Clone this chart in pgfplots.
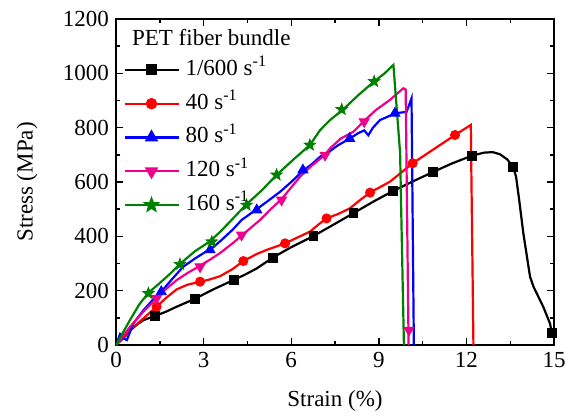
\documentclass[border=0pt]{standalone}
\usepackage{fontspec}
\setmainfont{Liberation Serif}
\usepackage{pgfplots}
\pgfplotsset{compat=1.18}

% filled five-pointed star for the 160 s^-1 series
\pgfdeclareplotmark{fstar}{%
  \pgfpathmoveto{\pgfpointpolar{90}{\pgfplotmarksize}}%
  \pgfpathlineto{\pgfpointpolar{126}{0.42\pgfplotmarksize}}%
  \pgfpathlineto{\pgfpointpolar{162}{\pgfplotmarksize}}%
  \pgfpathlineto{\pgfpointpolar{198}{0.42\pgfplotmarksize}}%
  \pgfpathlineto{\pgfpointpolar{234}{\pgfplotmarksize}}%
  \pgfpathlineto{\pgfpointpolar{270}{0.42\pgfplotmarksize}}%
  \pgfpathlineto{\pgfpointpolar{306}{\pgfplotmarksize}}%
  \pgfpathlineto{\pgfpointpolar{342}{0.42\pgfplotmarksize}}%
  \pgfpathlineto{\pgfpointpolar{18}{\pgfplotmarksize}}%
  \pgfpathlineto{\pgfpointpolar{54}{0.42\pgfplotmarksize}}%
  \pgfpathclose
  \pgfusepathqfillstroke
}

\definecolor{ogreen}{RGB}{0,128,0}

\begin{document}
\begin{tikzpicture}[font=\fontsize{11.5}{13.8}\selectfont]
\useasboundingbox (-58pt,-35.5pt) rectangle (224.5pt,172.5pt);
\begin{axis}[
    scale only axis,
    width=219pt, height=163pt,
    xmin=0, xmax=15, ymin=0, ymax=1200,
    xtick={0,3,6,9,12,15},
    xticklabels={0,3,6,9,12,15},
    ytick={0,200,400,600,800,1000,1200},
    yticklabels={0,200,400,600,800,1000,1200},
    minor x tick num=1,
    minor y tick num=1,
    tick align=inside,
    major tick length=3.5pt,
    minor tick length=2pt,
    axis line style={line width=0.9pt},
    every tick/.style={black, line width=0.7pt},
    tick label style={font=\fontsize{11.5}{13.8}\selectfont},
    legend style={
        draw=none, fill=none,
        at={(0,1)}, anchor=north west,
        xshift=3.5pt, yshift=-20pt,
        inner sep=0pt,
        row sep=6.4pt,
        nodes={inner sep=0pt, text height=8pt, text depth=2.5pt},
        /tikz/every odd column/.append style={column sep=3pt},
        font=\fontsize{11.5}{13.8}\selectfont,
    },
    legend cell align=left,
    legend image code/.code={
        \draw[mark repeat=2,mark phase=2] plot coordinates {(0pt,0pt) (13.5pt,0pt) (27pt,0pt)};
    },
]

% 1/600 s^-1
\addplot[black, line width=1.1pt, forget plot] coordinates {
  (0,0) (0.25,25) (0.5,55) (0.75,78) (0.95,92) (1.34,107) (1.7,122) (2.08,141)
  (2.7,170) (3.3,203) (4.02,239) (4.4,258) (4.82,282) (5.39,323) (6.0,360)
  (6.76,401) (7.4,440) (8.13,485) (8.8,527) (9.49,567) (10.2,604) (10.86,637)
  (11.5,668) (12.19,697) (12.6,708) (12.9,710) (13.15,702) (13.4,683) (13.6,655)
  (13.7,620) (13.8,540) (13.95,411) (14.18,251) (14.3,214) (14.63,141) (14.86,80) (14.93,44)
};
\addplot[black, only marks, mark=square*, mark size=2.2pt, forget plot] coordinates {
  (1.34,107) (2.7,170) (4.04,239) (5.38,322) (6.76,401) (8.13,485) (9.49,567)
  (10.86,637) (12.19,697) (13.6,655) (14.93,44)
};

% 40 s^-1
\addplot[red, line width=1.1pt, forget plot] coordinates {
  (0,0) (0.48,55) (0.94,98) (1.39,141) (1.7,172) (2.08,205) (2.45,222) (2.88,233)
  (3.2,241) (3.56,253) (4.0,280) (4.36,309) (4.82,335) (5.16,350) (5.79,374)
  (6.2,395) (6.64,417) (6.95,445) (7.21,466) (7.6,482) (8.01,503) (8.35,533)
  (8.7,561) (9.38,601) (10.16,669) (10.9,722) (11.61,773) (12.15,810) (12.24,0)
};
\addplot[red, only marks, mark=*, mark size=2.3pt, forget plot] coordinates {
  (1.39,141) (2.88,233) (4.36,309) (5.79,374) (7.21,466) (8.7,561) (10.16,669) (11.61,773)
};

% 80 s^-1
\addplot[blue, line width=1.1pt, forget plot] coordinates {
  (0,0) (0.14,40) (0.25,25) (0.37,18) (0.6,80) (0.94,128) (1.25,165) (1.55,196)
  (1.9,240) (2.3,288) (2.7,318) (3.1,345) (3.22,350) (3.6,385) (4.0,425) (4.3,460)
  (4.82,500) (5.2,530) (5.62,564) (6.0,600) (6.4,641) (6.7,665) (6.99,693)
  (7.3,712) (7.6,735) (7.96,757) (8.3,780) (8.5,790) (8.64,772) (8.8,800)
  (9.04,828) (9.3,840) (9.55,853) (9.95,858) (10.12,908) (10.2,0)
};
\addplot[blue, only marks, mark=triangle*, mark size=2.9pt, forget plot] coordinates {
  (1.55,196) (3.22,350) (4.82,497) (6.4,644) (8.0,760) (9.55,853)
};

% 120 s^-1
\addplot[magenta, line width=1.1pt, forget plot] coordinates {
  (0,0) (0.14,18) (0.48,67) (0.94,123) (1.39,172) (1.7,205) (2.08,239) (2.45,265)
  (2.82,288) (3.2,313) (3.56,338) (4.0,375) (4.36,408) (4.93,460) (5.3,500)
  (5.67,537) (6.0,580) (6.3,619) (6.7,660) (7.16,700) (7.33,724) (7.7,760)
  (8.13,785) (8.47,822) (8.9,865) (9.38,902) (9.84,945) (9.92,940) (10.02,0)
};
\addplot[magenta, only marks, mark=triangle*, mark options={rotate=180}, mark size=2.9pt, forget plot] coordinates {
  (1.39,172) (2.88,288) (4.3,405) (5.67,534) (7.16,699) (8.5,822) (10.03,55)
};

% 160 s^-1
\addplot[ogreen, line width=1.1pt, forget plot] coordinates {
  (0,0) (0.48,92) (0.8,150) (1.11,192) (1.5,228) (1.85,262) (2.19,298) (2.7,345)
  (3.2,380) (3.6,420) (4.0,465) (4.47,518) (5.0,570) (5.5,626) (6.1,685)
  (6.64,736) (6.99,791) (7.33,828) (7.78,867) (8.3,920) (8.84,970) (9.2,1000)
  (9.5,1031) (9.73,706) (9.76,534) (9.86,0)
};
\addplot[ogreen, only marks, mark=fstar, mark size=3pt, forget plot] coordinates {
  (1.11,190) (2.19,297) (3.28,380) (4.47,515) (5.5,626) (6.64,736) (7.73,867) (8.84,970)
};

\addlegendimage{black, line width=1.1pt, mark=square*, mark size=2.2pt}
\addlegendentry{1/600 s\textsuperscript{-1}}
\addlegendimage{red, line width=1.1pt, mark=*, mark size=2.3pt}
\addlegendentry{40 s\textsuperscript{-1}}
\addlegendimage{blue, line width=1.1pt, mark=triangle*, mark size=2.9pt}
\addlegendentry{80 s\textsuperscript{-1}}
\addlegendimage{magenta, line width=1.1pt, mark=triangle*, mark options={rotate=180}, mark size=2.9pt}
\addlegendentry{120 s\textsuperscript{-1}}
\addlegendimage{ogreen, line width=1.1pt, mark=fstar, mark size=3pt}
\addlegendentry{160 s\textsuperscript{-1}}
\end{axis}
\node[anchor=west] at (4.5pt,153.5pt) {PET fiber bundle};
\node[rotate=90] at (-44.5pt,81.5pt) {Stress (MPa)};
\node at (109.5pt,-28pt) {Strain (\%)};
\end{tikzpicture}
\end{document}
